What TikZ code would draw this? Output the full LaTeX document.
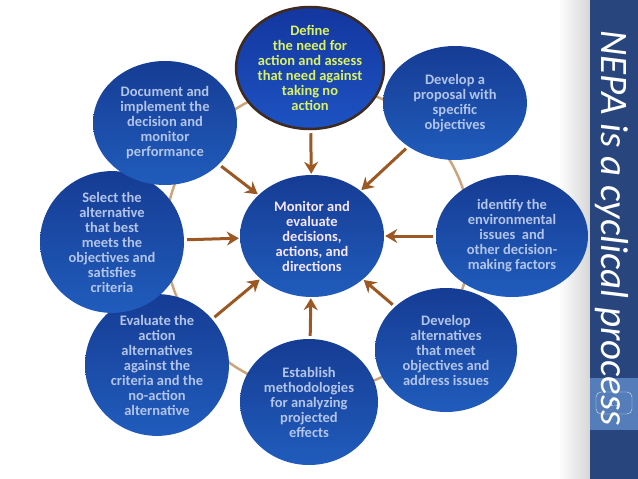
\documentclass[tikz,border=0pt]{standalone}
\usepackage{fontspec}
\setmainfont{Carlito}
\usepackage{tikz}
\usetikzlibrary{shapes.geometric, arrows.meta, backgrounds}
\definecolor{band}{RGB}{40, 70, 125}
\definecolor{bandlight}{RGB}{85, 125, 185}
\definecolor{blobtop}{RGB}{22, 60, 148}
\definecolor{blobbottom}{RGB}{32, 92, 188}
\definecolor{arrowbrown}{RGB}{155, 88, 35}
\definecolor{ringtan}{RGB}{205, 165, 125}
\definecolor{textgrey}{RGB}{178, 196, 232}
\definecolor{textlime}{RGB}{218, 242, 98}
\definecolor{textpink}{RGB}{246, 230, 246}
\definecolor{rimdark}{RGB}{62, 42, 30}

\begin{document}
\begin{tikzpicture}[x=1pt, y=-1pt,
    blob/.style={ellipse, inner sep=0pt, top color=blobtop, bottom color=blobbottom,
      align=center, text=textgrey, font=\bfseries\fontsize{14.5}{15}\selectfont},
    feed/.style={-{Stealth[length=12pt, width=14pt, inset=4pt]}, line width=3pt, arrowbrown,
      shorten <=3pt, shorten >=1pt},
    ring/.style={ringtan, line width=2.5pt}]
  \useasboundingbox (0,0) rectangle (638,479);

  % side band with title
  \shade[left color=white, right color=black!16] (558,0) rectangle (590,479);
  \fill[band] (590,0) rectangle (638,479);
  \fill[bandlight] (590,378) rectangle (638,430);
  \node[draw=white!85!band, rounded corners=5pt, minimum width=36pt, minimum height=22pt,
    text=white!80!band, font=\fontsize{11}{11}\selectfont] (pagenum) at (614,403) {11};
  \node[rotate=-90, text=white, font=\itshape\fontsize{39}{39}\selectfont] (title) at (612,228)
    {NEPA is a cyclical process};

  % the cycle
  \node[blob, minimum width=136pt, minimum height=122pt, draw=rimdark, line width=2.5pt,
    top color=blobtop!90!blue, bottom color=blobbottom!90!blue, text=textlime] (define) at (310,68)
    {Define\\the need for\\action and assess\\that need against\\taking no\\action};
  \node[blob, minimum width=144pt, minimum height=114pt] (proposal) at (455,103)
    {Develop a\\proposal with\\specific\\objectives};
  \node[blob, minimum width=152pt, minimum height=122pt] (identify) at (512,236)
    {identify the\\environmental\\issues~ and\\other decision-\\making factors};
  \node[blob, minimum width=142pt, minimum height=124pt] (devalt) at (446,350)
    {Develop\\alternatives\\that meet\\objectives and\\address issues};
  \node[blob, minimum width=138pt, minimum height=126pt] (establish) at (309,402)
    {Establish\\methodologies\\for analyzing\\projected\\effects};
  \node[blob, minimum width=144pt, minimum height=124pt] (evaluate) at (157,365)
    {Evaluate the\\action\\alternatives\\against the\\criteria and the\\no-action\\alternative};
  \node[blob, minimum width=144pt, minimum height=122pt] (select) at (112,242)
    {Select the\\alternative\\that best\\meets the\\objectives and\\satisfies\\criteria};
  \node[blob, minimum width=144pt, minimum height=124pt] (document) at (165,123)
    {Document and\\implement the\\decision and\\monitor\\performance};

  % hub
  \node[blob, minimum width=144pt, minimum height=122pt, text=textpink] (monitor) at (312,236)
    {Monitor and\\evaluate\\decisions,\\actions, and\\directions};

  \coordinate (hub) at (318,238);
  \begin{scope}[on background layer]
    \draw[ring] (hub) circle (153pt);
  \end{scope}

  \foreach \src in {define, proposal, identify, devalt, establish, evaluate, select, document}
    \draw[feed] (\src) -- (monitor);
\end{tikzpicture}
\end{document}
